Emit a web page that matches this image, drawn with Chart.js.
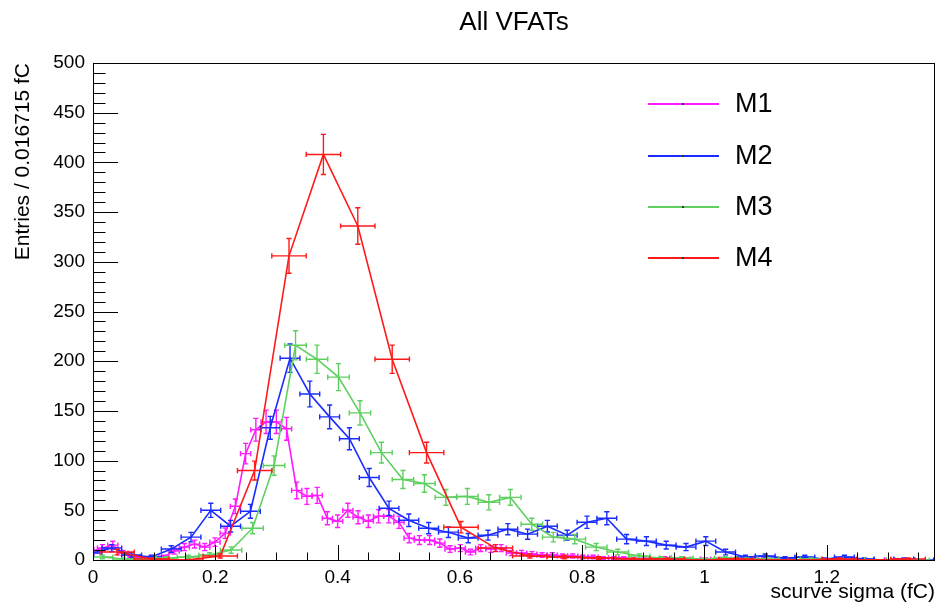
<!DOCTYPE html>
<html><head><meta charset="utf-8">
<script src="https://cdn.jsdelivr.net/npm/chart.js@4.4.0/dist/chart.umd.min.js"></script>
<style>html,body{margin:0;padding:0;background:#fff;} canvas{display:block;}</style>
</head><body>
<canvas id="c" width="938" height="603"></canvas>
<script>
// ---------- text ----------
const chartTitle = 'All VFATs';
const xAxisTitle = 'scurve sigma (fC)';
const yAxisTitle = 'Entries / 0.016715 fC';
const seriesNames = ['M1', 'M2', 'M3', 'M4'];
const xTickLabels = ['0', '0.2', '0.4', '0.6', '0.8', '1', '1.2'];
const yTickLabels = ['0', '50', '100', '150', '200', '250', '300', '350', '400', '450', '500'];

// ---------- axis ranges ----------
const xRange = [0, 1.377];
const yRange = [0, 500];

// ---------- histogram binning (first bin centre, bin width in fC) ----------
const m1Binning = [-0.0011, 0.016715];
const m2Binning = [-0.0016, 0.03238];
const m3Binning = [0.01505, 0.03513];
const m4Binning = [0.0393, 0.05625];

// ---------- bin contents ----------
const m1Values = [9, 12, 15, 7, 3, 2, 1, 3, 9, 13, 16, 13, 18, 27, 54, 107, 131, 139, 139, 132,
  70, 64, 65, 42, 39, 50, 43, 39, 44, 44, 38, 22, 20, 20, 17, 11, 12, 8, 12, 11,
  12, 7, 7, 6, 5, 5, 4, 4, 3, 3, 2, 2, 2, 1, 1, 1, 2, 1, 1, 0,
  1, 0, 1, 0, 0, 1, 0, 0, 0, 0, 0, 0, 0, 0, 0, 0, 0, 0, 0, 0, 0, 0];
const m2Values = [7, 12, 5, 3, 11, 23, 50, 34, 49, 133, 203, 167, 144, 122, 83, 52, 40, 32, 28, 22,
  25, 31, 26, 34, 25, 38, 42, 21, 19, 15, 13, 19, 8, 3, 4, 2, 3, 1, 3, 1, 0, 1, 0];
const m3Values = [3, 1, 1, 2, 3, 5, 10, 32, 95, 216, 202, 184, 148, 108, 81, 77, 63, 64, 58, 63,
  36, 23, 21, 13, 8, 4, 2, 2, 1, 2, 1, 1, 0, 1, 0, 0, 0, 0, 0];
const m4Values = [8, 1, 0, 4, 90, 306, 408, 336, 202, 108, 33, 12, 4, 3, 2, 1, 1, 0, 1, 0, 0, 1, 0, 1];

const seriesColors = ['#ff1aff', '#1a2cff', '#5fcf5f', '#ff1a1a'];

function toPoints(values, binning) {
  return values.map((v, i) => ({ x: binning[0] + binning[1] * i, y: v }));
}

const allValues = [m1Values, m2Values, m3Values, m4Values];
const allBinning = [m1Binning, m2Binning, m3Binning, m4Binning];

const FONT = "'Liberation Sans', Arial, Helvetica, sans-serif";

const datasets = seriesNames.map((name, i) => ({
  label: name,
  data: toPoints(allValues[i], allBinning[i]),
  binWidth: allBinning[i][1],
  showLine: true,
  borderColor: seriesColors[i],
  backgroundColor: seriesColors[i],
  borderWidth: 1.6,
  pointRadius: 0,
  pointHoverRadius: 0,
  tension: 0,
  fill: false,
  order: 3 - i
}));

// error bars: horizontal = bin width, vertical = Poisson sqrt(N)
const errorBars = {
  id: 'errorBars',
  afterDatasetDraw(chart, args) {
    const ds = chart.data.datasets[args.index];
    const xs = chart.scales.x, ys = chart.scales.y;
    const ctx = chart.ctx, ca = chart.chartArea;
    const hw = ds.binWidth / 2, cap = 2.6;
    ctx.save();
    ctx.beginPath();
    ctx.rect(ca.left, ca.top, ca.right - ca.left, ca.bottom - ca.top);
    ctx.clip();
    ctx.strokeStyle = ds.borderColor;
    ctx.lineWidth = 1.4;
    ds.data.forEach(p => {
      const xc = xs.getPixelForValue(p.x);
      const x0 = xs.getPixelForValue(p.x - hw), x1 = xs.getPixelForValue(p.x + hw);
      const yc = ys.getPixelForValue(p.y);
      const e = Math.sqrt(p.y);
      ctx.beginPath();
      ctx.moveTo(x0, yc); ctx.lineTo(x1, yc);
      ctx.moveTo(x0, yc - cap); ctx.lineTo(x0, yc + cap);
      ctx.moveTo(x1, yc - cap); ctx.lineTo(x1, yc + cap);
      if (e > 0) {
        const y0 = ys.getPixelForValue(p.y - e), y1 = ys.getPixelForValue(p.y + e);
        ctx.moveTo(xc, y0); ctx.lineTo(xc, y1);
        ctx.moveTo(xc - cap, y0); ctx.lineTo(xc + cap, y0);
        ctx.moveTo(xc - cap, y1); ctx.lineTo(xc + cap, y1);
      }
      ctx.stroke();
    });
    ctx.restore();
  }
};

// frame and inward ROOT-style ticks, title, legend
const decorations = {
  id: 'decorations',
  afterDraw(chart) {
    const ctx = chart.ctx, ca = chart.chartArea;
    const xs = chart.scales.x, ys = chart.scales.y;
    ctx.save();
    ctx.strokeStyle = '#000';
    ctx.lineWidth = 1;
    ctx.strokeRect(Math.round(ca.left) + 0.5, Math.round(ca.top) + 0.5,
      Math.round(ca.right - ca.left) - 1, Math.round(ca.bottom - ca.top));
    ctx.beginPath();
    // y ticks
    for (let v = yRange[0]; v <= yRange[1] + 1e-9; v += 10) {
      const y = Math.round(ys.getPixelForValue(v)) + 0.5;
      const len = (Math.round(v) % 50 === 0) ? 25 : 12.5;
      ctx.moveTo(ca.left, y); ctx.lineTo(ca.left + len, y);
    }
    // x ticks
    for (let k = 0; k * 0.05 <= xRange[1] + 1e-9; k++) {
      const x = Math.round(xs.getPixelForValue(k * 0.05)) + 0.5;
      const len = (k % 4 === 0) ? 15 : 7.5;
      ctx.moveTo(x, ca.bottom); ctx.lineTo(x, ca.bottom - len);
    }
    ctx.stroke();

    // title
    ctx.fillStyle = '#000';
    ctx.font = '26px ' + FONT;
    ctx.textAlign = 'center';
    ctx.textBaseline = 'middle';
    ctx.fillText(chartTitle, (ca.left + ca.right) / 2, 23);

    // legend
    const legY = [104, 156, 207, 258];
    ctx.font = '27px ' + FONT;
    ctx.textAlign = 'left';
    seriesNames.forEach((name, i) => {
      ctx.strokeStyle = seriesColors[i];
      ctx.lineWidth = 2;
      ctx.beginPath();
      ctx.moveTo(648, legY[i]); ctx.lineTo(719, legY[i]);
      ctx.stroke();
      ctx.fillStyle = '#333';
      ctx.fillRect(682, legY[i] - 1, 2, 2);
      ctx.fillStyle = '#000';
      ctx.fillText(name, 735, legY[i] + 1);
    });
    ctx.restore();
  }
};

new Chart(document.getElementById('c'), {
  type: 'scatter',
  data: { datasets },
  plugins: [errorBars, decorations],
  options: {
    responsive: false,
    animation: false,
    devicePixelRatio: 1,
    layout: { padding: { top: 63, right: 3, left: 0, bottom: 0 } },
    plugins: { legend: { display: false }, tooltip: { enabled: false }, title: { display: false } },
    scales: {
      x: {
        type: 'linear', min: xRange[0], max: xRange[1],
        grid: { display: false, drawTicks: false, tickLength: 0 },
        border: { display: false },
        afterFit(s) { s.height = 43; },
        ticks: {
          stepSize: 0.2, includeBounds: false, autoSkip: false, maxRotation: 0,
          padding: 6, color: '#000', font: { family: FONT, size: 19 },
          callback: v => xTickLabels[Math.round(v / 0.2)]
        },
        title: { display: true, text: xAxisTitle, align: 'end', color: '#000',
          font: { family: FONT, size: 21, lineHeight: 1 }, padding: { top: 0, bottom: 0 } }
      },
      y: {
        type: 'linear', min: yRange[0], max: yRange[1],
        grid: { display: false, drawTicks: false, tickLength: 0 },
        border: { display: false },
        afterFit(s) { s.width = 93; },
        ticks: {
          stepSize: 50, autoSkip: false, padding: 8, color: '#000',
          font: { family: FONT, size: 19 },
          callback: v => yTickLabels[Math.round(v / 50)]
        },
        title: { display: true, text: yAxisTitle, align: 'end', color: '#000',
          font: { family: FONT, size: 21 }, padding: { top: 11, bottom: 0 } }
      }
    }
  }
});
</script>
</body></html>
